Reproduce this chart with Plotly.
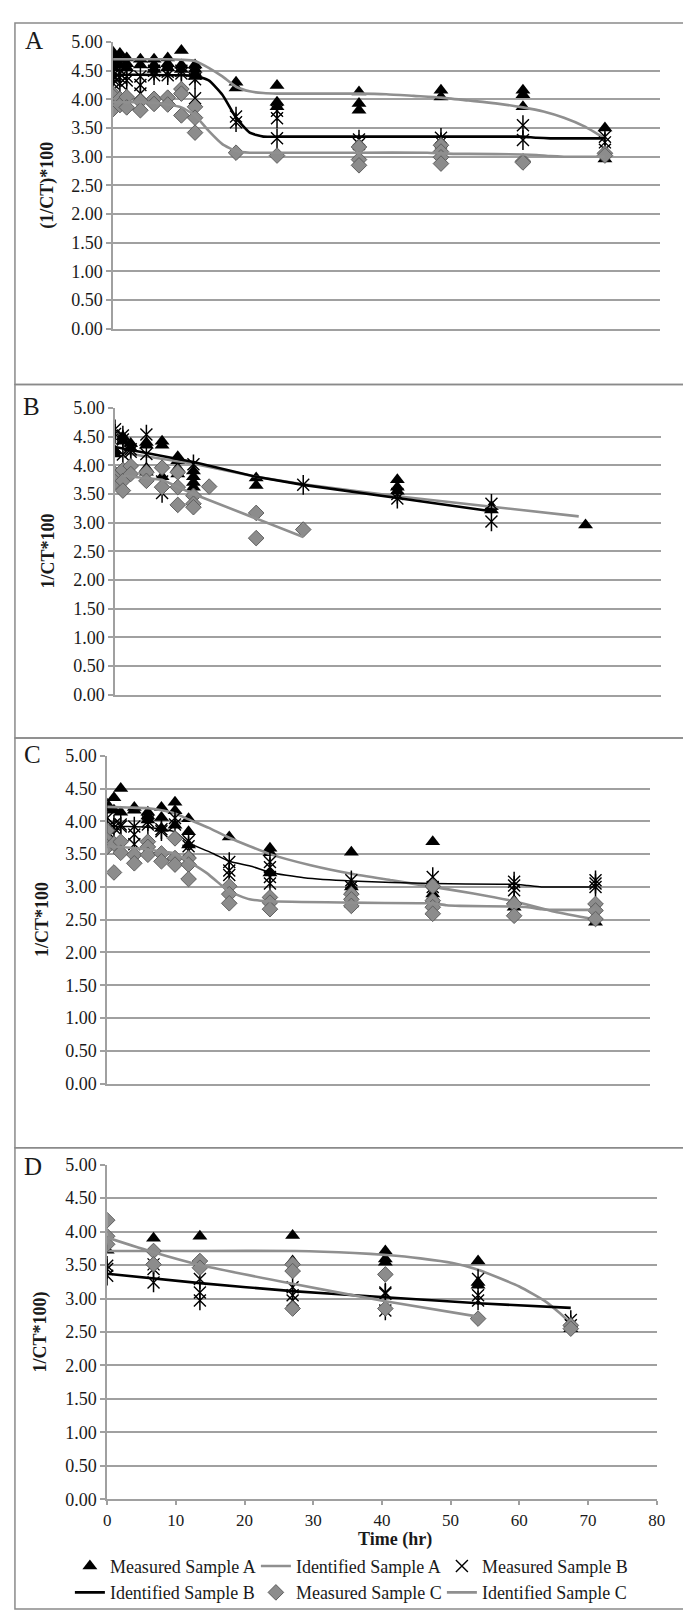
import plotly.graph_objects as go

# ---------------- DATA ----------------
# Panel A
A_times = [0, 1, 2, 4, 6, 8, 10, 12, 18, 24, 36, 48, 60, 72]
A_meas_A = [[4.82, 4.75, 4.68, 4.60, 4.55], [4.80, 4.70, 4.60], [4.72, 4.62, 4.55], [4.70, 4.60],
            [4.70, 4.60, 4.52], [4.72, 4.62, 4.55], [4.85, 4.60, 4.52], [4.60, 4.52, 4.45, 4.40],
            [4.30, 4.20], [4.24, 3.95, 3.87], [4.13, 3.93, 3.81], [4.16, 4.04], [4.16, 4.08, 3.87],
            [3.50, 3.08, 2.96]]
A_meas_B = [[4.50, 4.42, 4.35, 4.28], [4.45, 4.38, 4.28], [4.40, 4.33], [4.40, 4.25, 4.10],
            [4.50, 4.42], [4.48, 4.42], [4.50, 4.45], [4.45, 4.35, 4.02], [3.70, 3.60],
            [3.80, 3.67, 3.32], [3.30, 3.22], [3.33, 3.25], [3.55, 3.29], [3.35, 3.25, 3.12]]
A_meas_C = [[4.10, 4.05, 3.83], [4.01, 3.90], [4.04, 3.86], [3.97, 3.81], [4.01, 3.92], [4.03, 3.91],
            [4.18, 4.10, 3.72], [3.87, 3.68, 3.42], [3.07], [3.02], [3.17, 2.95, 2.85],
            [3.20, 3.09, 2.99, 2.88], [2.92, 2.90], [3.06, 3.02]]
A_idA_t = [0, 4, 8, 10, 12, 14, 16, 18, 20, 22, 24, 30, 36, 40, 44, 48, 52, 56, 60, 63, 66, 69, 72]
A_idA_v = [4.70, 4.70, 4.70, 4.69, 4.67, 4.55, 4.40, 4.22, 4.14, 4.11, 4.10, 4.10, 4.10, 4.09, 4.06,
           4.03, 3.98, 3.93, 3.86, 3.79, 3.68, 3.53, 3.32]
A_idB_t = [0, 4, 8, 10, 12, 14, 16, 18, 20, 22, 24, 30, 36, 48, 58, 60, 62, 64, 72]
A_idB_v = [4.43, 4.43, 4.42, 4.42, 4.41, 4.33, 4.08, 3.68, 3.42, 3.35, 3.35, 3.35, 3.35, 3.35, 3.35,
           3.35, 3.33, 3.32, 3.32]
A_idC_t = [0, 4, 6, 8, 10, 12, 14, 16, 18, 20, 22, 24, 36, 46, 48, 50, 52, 60, 62, 64, 66, 72]
A_idC_v = [3.95, 3.95, 3.94, 3.91, 3.86, 3.72, 3.45, 3.22, 3.10, 3.07, 3.07, 3.07, 3.07, 3.07, 3.06,
           3.05, 3.05, 3.04, 3.03, 3.01, 3.00, 3.00]

# Panel B
B_times = [0, 1.15, 2.3, 4.6, 6.9, 9.2, 11.5, 13.8, 20.7, 27.6, 41.4, 55.2, 69]
B_meas_A = [[4.25, 4.20], [4.50, 4.42], [4.38, 4.30], [4.40, 4.35, 3.95, 3.88], [4.42, 4.35, 3.80],
            [4.15, 4.08, 3.95, 3.85], [3.90, 3.80, 3.70, 3.62], [], [3.78, 3.65], [],
            [3.75, 3.62, 3.55], [3.28, 3.22], [2.96]]
B_meas_B = [[4.63, 4.55], [4.52, 4.45, 4.19], [4.28, 4.24], [4.54, 4.20], [3.72, 3.52], [], [4.02],
            [], [], [3.66], [3.42, 3.50], [3.33, 3.02], []]
B_meas_C = [[3.85, 3.78, 3.71], [3.92, 3.73, 3.56], [3.99, 3.85], [3.88, 3.73], [3.96, 3.62],
            [3.88, 3.62, 3.31], [3.47, 3.33, 3.27], [3.63], [3.17, 2.73], [2.88], [], [], []]
B_idA_t = [1.15, 11.5, 20.7, 27.6, 41.4, 55.2, 68]
B_idA_v = [4.22, 4.03, 3.80, 3.67, 3.46, 3.28, 3.11]
B_idB_t = [0, 11.5, 20.7, 27.6, 41.4, 55.2]
B_idB_v = [4.32, 4.06, 3.80, 3.66, 3.43, 3.20]
B_idC_t = [1.15, 6.9, 11.5, 20.7, 27.6]
B_idC_v = [3.82, 3.75, 3.50, 3.07, 2.75]

# Panel C
C_times = [0, 1, 2, 4, 6, 8, 10, 12, 18, 24, 36, 48, 60, 72]
C_meas_A = [[4.26, 4.20], [4.36, 4.17], [4.50, 4.14], [4.21, 4.17], [4.14, 4.08, 4.02],
            [4.21, 4.06, 3.89], [4.29, 4.16, 3.94], [4.04, 3.84, 3.64], [3.76], [3.59, 3.52, 3.21],
            [3.53, 3.00, 2.74], [3.69, 2.89, 2.81], [2.79, 2.69], [2.46]]
C_meas_B = [[4.05, 3.90, 3.85], [3.95, 3.90], [3.95, 3.92], [3.92, 3.80, 3.65], [4.00, 3.95],
            [3.88, 3.85], [4.05, 3.95], [3.70, 3.62, 3.55], [3.38, 3.25, 3.18],
            [3.38, 3.30, 3.15, 3.05], [3.10, 3.00, 2.90], [3.15, 3.00, 2.90], [3.08, 3.02, 2.95],
            [3.10, 3.05, 3.00]]
C_meas_C = [[3.86, 3.71, 3.61], [3.66, 3.22], [3.69, 3.52], [3.49, 3.36], [3.69, 3.61, 3.49],
            [3.51, 3.39], [3.74, 3.44, 3.34], [3.44, 3.34, 3.12], [3.01, 2.89, 2.75],
            [2.84, 2.76, 2.66], [2.89, 2.81, 2.71], [3.01, 2.79, 2.69, 2.59], [2.74, 2.56],
            [2.74, 2.64, 2.51]]
C_idA_t = [0, 3, 6, 8, 10, 12, 15, 18, 24, 30, 36, 42, 48, 54, 60, 66, 72]
C_idA_v = [4.22, 4.21, 4.20, 4.17, 4.12, 4.03, 3.90, 3.75, 3.50, 3.33, 3.20, 3.10, 3.00, 2.90, 2.78,
           2.62, 2.50]
C_idB_t = [0, 3, 6, 8, 10, 12, 15.6, 18, 21.4, 24, 29, 36, 48, 58, 60, 62, 64, 72]
C_idB_v = [3.92, 3.92, 3.91, 3.88, 3.84, 3.67, 3.51, 3.39, 3.31, 3.22, 3.14, 3.09, 3.05, 3.04, 3.04,
           3.02, 3.00, 3.00]
C_idC_t = [0, 3, 6, 8, 10, 12, 14.7, 17, 18, 21, 24, 36, 46, 48, 50, 52, 60, 62, 64, 66, 72]
C_idC_v = [3.62, 3.60, 3.57, 3.54, 3.51, 3.39, 3.21, 3.01, 2.93, 2.81, 2.78, 2.76, 2.75, 2.75, 2.72,
           2.71, 2.70, 2.69, 2.66, 2.65, 2.65]

# Panel D
D_times = [0, 6.75, 13.5, 27, 40.5, 54, 67.5]
D_meas_A = [[3.72], [3.90], [3.93], [3.94, 3.56], [3.71, 3.59, 3.54], [3.56, 3.24, 3.20], [2.63, 2.55]]
D_meas_B = [[3.49, 3.44, 3.34], [3.51, 3.44, 3.24], [3.29, 3.09, 2.97], [3.17, 3.05, 2.97],
            [3.09, 3.07, 2.82], [3.29, 3.05, 2.97], [2.68, 2.60]]
D_meas_C = [[4.17, 3.93, 3.81], [3.71, 3.51], [3.56, 3.46], [3.51, 3.41, 2.85], [3.36, 2.85],
            [2.70], [2.60, 2.55]]
D_idA_t = [0, 13.5, 27.5, 36, 40.7, 45.6, 50.3, 54, 60, 63.9, 65.8, 67.5]
D_idA_v = [3.71, 3.71, 3.71, 3.68, 3.65, 3.60, 3.53, 3.43, 3.18, 2.95, 2.79, 2.63]
D_idB_t = [0, 13.5, 27, 40.5, 54, 67.5]
D_idB_v = [3.37, 3.23, 3.11, 3.02, 2.93, 2.86]
D_idC_t = [0, 6.75, 13.5, 27, 40.5, 54]
D_idC_v = [3.91, 3.69, 3.50, 3.22, 2.96, 2.73]

panel_letters = ["A", "B", "C", "D"]
y_titles = ["(1/CT)*100", "1/CT*100", "1/CT*100", "1/CT*100)"]
x_title = "Time (hr)"
y_ticks = [0, 0.5, 1, 1.5, 2, 2.5, 3, 3.5, 4, 4.5, 5]
x_ticks = [0, 10, 20, 30, 40, 50, 60, 70, 80]
series_names = ["Measured Sample A", "Identified Sample A", "Measured Sample B",
                "Identified Sample B", "Measured Sample C", "Identified Sample C"]

# ---------------- LAYOUT GEOMETRY (pixels) ----------------
W, H = 691, 1613
FONT = "Liberation Serif"
TXT = "#1a1a1a"
GRAY_LINE = "#8f8f8f"
GRID = "#a0a0a0"


def fx(p):
    return p / W


def fy(p):
    return 1 - p / H


panels = [
    dict(times=A_times, mA=A_meas_A, mB=A_meas_B, mC=A_meas_C,
         idA=(A_idA_t, A_idA_v), idB=(A_idB_t, A_idB_v), idC=(A_idC_t, A_idC_v),
         xd=(103, 660), yd=(24.3, 314.7), box=(5, 371), tx=36, letter=(22, 23), bw=2.6, spline=True),
    dict(times=B_times, mA=B_meas_A, mB=B_meas_B, mC=B_meas_C,
         idA=(B_idA_t, B_idA_v), idB=(B_idB_t, B_idB_v), idC=(B_idC_t, B_idC_v),
         xd=(105, 661), yd=(395, 685), box=(371, 729), tx=37, letter=(20, 393), bw=2.6, spline=False),
    dict(times=C_times, mA=C_meas_A, mB=C_meas_B, mC=C_meas_C,
         idA=(C_idA_t, C_idA_v), idB=(C_idB_t, C_idB_v), idC=(C_idC_t, C_idC_v),
         xd=(97, 650), yd=(747, 1079), box=(729, 1144), tx=30, letter=(21, 746), bw=1.5, spline=True),
    dict(times=D_times, mA=D_meas_A, mB=D_meas_B, mC=D_meas_C,
         idA=(D_idA_t, D_idA_v), idB=(D_idB_t, D_idB_v), idC=(D_idC_t, D_idC_v),
         xd=(97, 657), yd=(1161, 1500), box=(1144, 1611), tx=29, letter=(21, 1163), bw=2.6, spline=True),
]


def expand(times, groups):
    xs, ys = [], []
    for t, vals in zip(times, groups):
        for v in vals:
            xs.append(t)
            ys.append(v)
    return xs, ys


fig = go.Figure()
shapes = []
annotations = []

for i, p in enumerate(panels):
    n = "" if i == 0 else str(i + 1)
    xa, ya = "x" + n, "y" + n
    show = (i == 3)
    shape = "spline" if p["spline"] else "linear"

    x, y = expand(p["times"], p["mA"])
    fig.add_trace(go.Scatter(x=x, y=y, mode="markers", xaxis=xa, yaxis=ya,
                             name=series_names[0], legendgroup="mA", showlegend=show,
                             marker=dict(symbol="triangle-up", size=13, color="black")))
    fig.add_trace(go.Scatter(x=p["idA"][0], y=p["idA"][1], mode="lines", xaxis=xa, yaxis=ya,
                             name=series_names[1], legendgroup="iA", showlegend=show,
                             line=dict(color=GRAY_LINE, width=2.6, shape=shape, smoothing=0.5)))
    x, y = expand(p["times"], p["mB"])
    fig.add_trace(go.Scatter(x=x, y=y, mode="markers", xaxis=xa, yaxis=ya,
                             name=series_names[2], legendgroup="mB", showlegend=show,
                             marker=dict(symbol="x-thin-open", size=12, color="black",
                                         line=dict(color="black", width=1.4))))
    fig.add_trace(go.Scatter(x=x, y=y, mode="markers", xaxis=xa, yaxis=ya,
                             name=series_names[2], legendgroup="mB", showlegend=False,
                             hoverinfo="skip",
                             marker=dict(symbol="line-ns-open", size=14, color="black",
                                         line=dict(color="black", width=1.5))))
    fig.add_trace(go.Scatter(x=p["idB"][0], y=p["idB"][1], mode="lines", xaxis=xa, yaxis=ya,
                             name=series_names[3], legendgroup="iB", showlegend=show,
                             line=dict(color="black", width=p["bw"], shape=shape, smoothing=0.5)))
    x, y = expand(p["times"], p["mC"])
    fig.add_trace(go.Scatter(x=x, y=y, mode="markers", xaxis=xa, yaxis=ya,
                             name=series_names[4], legendgroup="mC", showlegend=show,
                             marker=dict(symbol="diamond", size=12, color="#8c8c8c",
                                         line=dict(color="#5e5e5e", width=1))))
    fig.add_trace(go.Scatter(x=p["idC"][0], y=p["idC"][1], mode="lines", xaxis=xa, yaxis=ya,
                             name=series_names[5], legendgroup="iC", showlegend=show,
                             line=dict(color=GRAY_LINE, width=2.6, shape=shape, smoothing=0.5)))

    xaxis = dict(domain=[fx(p["xd"][0]), fx(p["xd"][1])], anchor=ya, range=[0, 80],
                 showgrid=False, zeroline=False, showline=True, linecolor=GRID, linewidth=1.5,
                 fixedrange=True)
    if i == 3:
        xaxis.update(tickmode="array", tickvals=x_ticks, ticks="outside", ticklen=4,
                     tickcolor=GRID, tickwidth=1.5, showticklabels=True,
                     tickfont=dict(family=FONT, size=17, color=TXT))
    else:
        xaxis.update(showticklabels=False, ticks="")
    yaxis = dict(domain=[fy(p["yd"][1]), fy(p["yd"][0])], anchor=xa, range=[0, 5],
                 tickmode="array", tickvals=y_ticks, tickformat=".2f",
                 showgrid=True, gridcolor=GRID, gridwidth=1.5, zeroline=False,
                 showline=True, linecolor=GRID, linewidth=1.5,
                 ticks="outside", ticklen=5, tickcolor=GRID, tickwidth=1.5,
                 tickfont=dict(family=FONT, size=18, color=TXT), fixedrange=True)
    fig.layout["xaxis" + n] = xaxis
    fig.layout["yaxis" + n] = yaxis

    # panel border
    shapes.append(dict(type="rect", xref="paper", yref="paper", x0=fx(3), x1=fx(685.5),
                       y0=fy(p["box"][1]), y1=fy(p["box"][0]),
                       line=dict(color="#8a8a8a", width=1.5), fillcolor="rgba(0,0,0,0)", layer="below"))
    # panel letter
    annotations.append(dict(text=panel_letters[i], xref="paper", yref="paper",
                            x=fx(p["letter"][0]), y=fy(p["letter"][1]), showarrow=False,
                            xanchor="center", yanchor="middle",
                            font=dict(family=FONT, size=25, color=TXT)))
    # y-axis title
    annotations.append(dict(text="<b>" + y_titles[i] + "</b>", xref="paper", yref="paper",
                            x=fx(p["tx"]), y=fy((p["yd"][0] + p["yd"][1]) / 2), showarrow=False,
                            textangle=-90, xanchor="center", yanchor="middle",
                            font=dict(family=FONT, size=18, color=TXT)))

annotations.append(dict(text="<b>" + x_title + "</b>", xref="paper", yref="paper",
                        x=fx(390), y=fy(1541), showarrow=False, xanchor="center", yanchor="middle",
                        font=dict(family=FONT, size=18, color=TXT)))

fig.update_layout(
    width=W, height=H, margin=dict(l=0, r=0, t=0, b=0),
    paper_bgcolor="white", plot_bgcolor="white",
    font=dict(family=FONT, size=18, color=TXT),
    shapes=shapes, annotations=annotations,
    showlegend=True,
    legend=dict(orientation="h", x=fx(59), xanchor="left", y=fy(1549), yanchor="top",
                entrywidth=141, entrywidthmode="pixels", traceorder="normal",
                font=dict(family=FONT, size=18, color=TXT), bgcolor="rgba(0,0,0,0)",
                itemwidth=30, tracegroupgap=0),
)

fig.write_html("out.html")
